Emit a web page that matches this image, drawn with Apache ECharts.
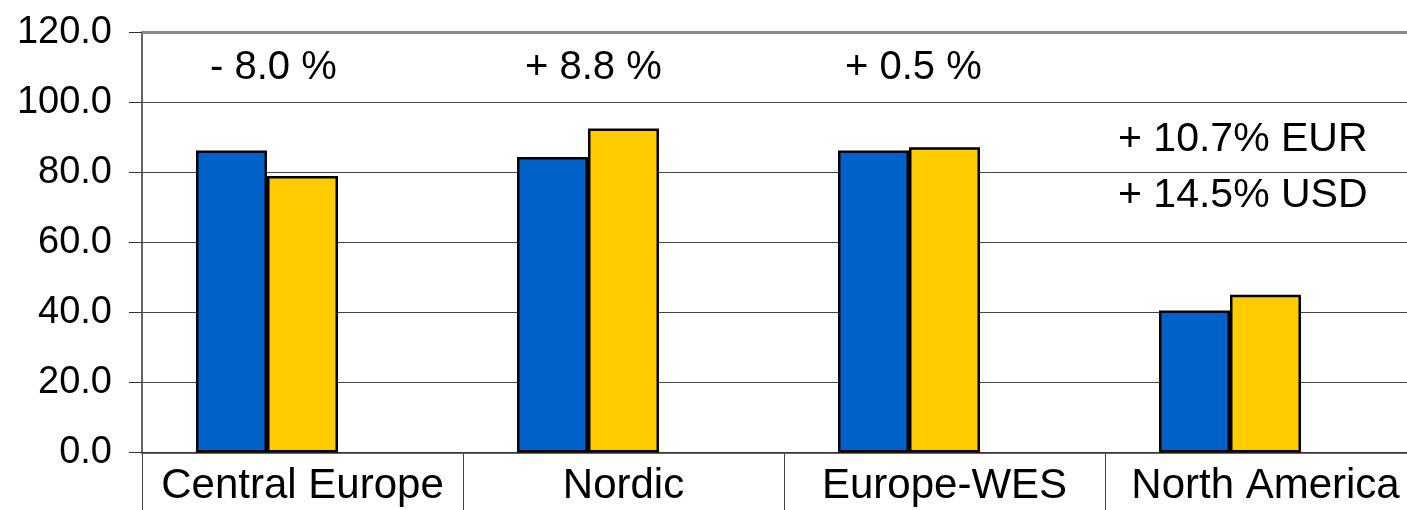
<!DOCTYPE html>
<html>
<head>
<meta charset="utf-8">
<script src="https://cdn.jsdelivr.net/npm/echarts@6/dist/echarts.min.js"></script>
<style>
html,body{margin:0;padding:0;background:#fff;overflow:hidden;width:1407px;height:510px;}
#c{width:1426px;height:510px;}
</style>
</head>
<body>
<div id="c"></div>
<script>
const categories = ['Central Europe', 'Nordic', 'Europe-WES', 'North America'];
const seriesPrev = [86.3, 84.4, 86.3, 40.6];
const seriesCurr = [79.0, 92.6, 87.2, 45.1];
const seriesEmpty = ['-', '-', '-', '-'];
const yTicks = [0, 20, 40, 60, 80, 100, 120];
const changeLabels = ['- 8.0 %', '+ 8.8 %', '+ 0.5 %'];
const naLabels = ['+ 10.7% EUR', '+ 14.5% USD'];

const FONT = 'Liberation Sans, Arial, sans-serif';
const chart = echarts.init(document.getElementById('c'), null, {renderer: 'canvas'});

const barBase = {
  type: 'bar',
  barWidth: 71,
  barGap: '0%'
};

chart.setOption({
  animation: false,
  backgroundColor: '#fff',
  grid: {left: 142, top: 32.5, right: 0, height: 420, containLabel: false},
  xAxis: [{
    type: 'category',
    data: categories,
    position: 'bottom',
    axisLine: {lineStyle: {color: '#333', width: 1.5}},
    axisTick: {show: true, length: 60, lineStyle: {color: '#444', width: 1}},
    axisLabel: {color: '#000', fontSize: 42, fontFamily: FONT, margin: 13, interval: 0}
  }, {
    type: 'category',
    data: categories,
    position: 'top',
    axisLine: {lineStyle: {color: '#888', width: 3}},
    axisTick: {show: false},
    axisLabel: {show: false}
  }],
  yAxis: {
    type: 'value',
    min: yTicks[0],
    max: yTicks[yTicks.length - 1],
    interval: 20,
    axisLine: {show: true, lineStyle: {color: '#666', width: 2}},
    axisTick: {show: true, length: 13, lineStyle: {color: '#333', width: 1}},
    splitLine: {show: true, lineStyle: {color: '#444', width: 1}},
    axisLabel: {
      color: '#000', fontSize: 38, fontFamily: FONT, margin: 30,
      formatter: v => v.toFixed(1)
    }
  },
  series: [
    Object.assign({}, barBase, {name: 'prev', data: seriesPrev, itemStyle: {color: '#0062C9', borderColor: '#000', borderWidth: 2.5}}),
    Object.assign({}, barBase, {name: 'curr', data: seriesCurr, itemStyle: {color: '#FFCC00', borderColor: '#000', borderWidth: 2.5}}),
    Object.assign({}, barBase, {name: 'empty', data: seriesEmpty})
  ],
  graphic: [
    {type: 'text', left: 210, top: 48, style: {text: changeLabels[0], font: '40px ' + FONT, fill: '#000'}},
    {type: 'text', left: 525, top: 48, style: {text: changeLabels[1], font: '40px ' + FONT, fill: '#000'}},
    {type: 'text', left: 845, top: 48, style: {text: changeLabels[2], font: '40px ' + FONT, fill: '#000'}},
    {type: 'text', left: 1118, top: 119, style: {text: naLabels[0], font: '41px ' + FONT, fill: '#000'}},
    {type: 'text', left: 1118, top: 175, style: {text: naLabels[1], font: '41px ' + FONT, fill: '#000'}}
  ]
});
</script>
</body>
</html>
